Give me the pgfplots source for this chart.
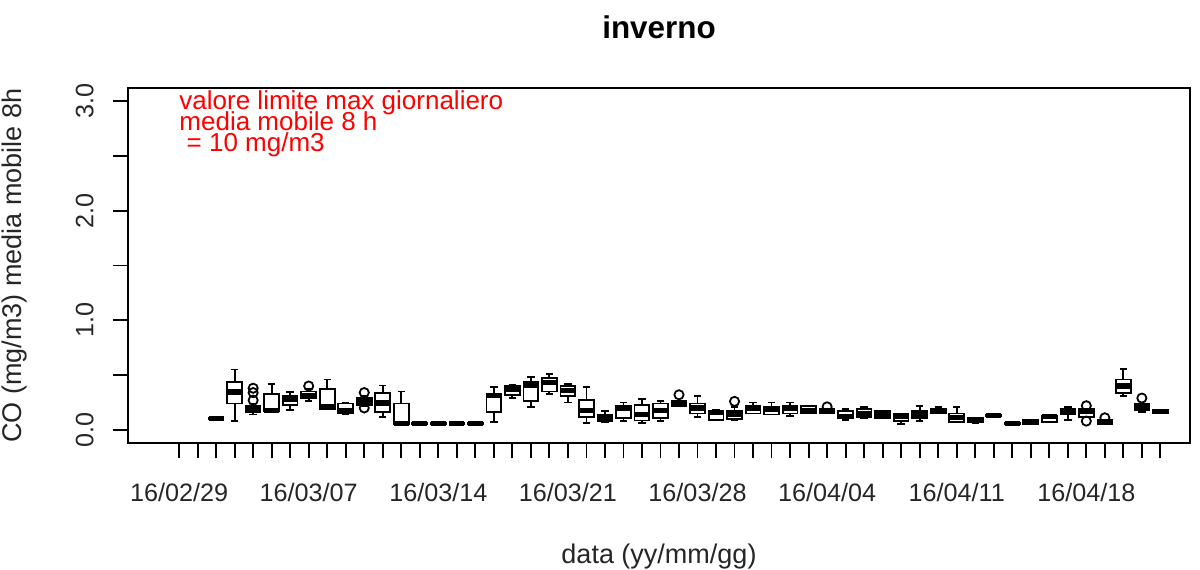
\documentclass[border=0pt]{standalone}
\usepackage{pgfplots}
\pgfplotsset{compat=1.18}
\usepackage{pgfplotstable}
\usepgfplotslibrary{statistics}
\usepackage{fontspec}
\setmainfont{Liberation Sans}

\pgfplotstableread{
k lw q1 med q3 uw
2 0.100 0.100 0.105 0.110 0.110
3 0.080 0.240 0.345 0.440 0.550
4 0.140 0.160 0.190 0.220 0.240
5 0.165 0.170 0.180 0.330 0.420
6 0.180 0.230 0.280 0.310 0.345
7 0.260 0.290 0.310 0.350 0.370
8 0.190 0.190 0.210 0.370 0.460
9 0.140 0.150 0.180 0.240 0.250
10 0.220 0.230 0.260 0.290 0.310
11 0.120 0.160 0.245 0.340 0.405
12 0.050 0.050 0.060 0.240 0.350
13 0.055 0.055 0.060 0.065 0.065
14 0.055 0.055 0.060 0.065 0.065
15 0.055 0.055 0.060 0.065 0.065
16 0.055 0.055 0.060 0.065 0.065
17 0.070 0.160 0.310 0.330 0.390
18 0.290 0.320 0.370 0.400 0.410
19 0.210 0.260 0.410 0.440 0.480
20 0.330 0.350 0.430 0.470 0.510
21 0.250 0.310 0.360 0.400 0.420
22 0.060 0.120 0.180 0.270 0.390
23 0.070 0.080 0.110 0.140 0.170
24 0.080 0.110 0.200 0.220 0.250
25 0.060 0.085 0.140 0.230 0.280
26 0.080 0.110 0.180 0.240 0.265
27 0.220 0.220 0.240 0.260 0.260
28 0.120 0.150 0.200 0.240 0.310
29 0.090 0.090 0.160 0.170 0.180
30 0.090 0.100 0.140 0.170 0.210
31 0.150 0.150 0.200 0.220 0.250
32 0.140 0.140 0.190 0.210 0.250
33 0.130 0.150 0.200 0.220 0.250
34 0.150 0.150 0.180 0.220 0.220
35 0.150 0.150 0.170 0.190 0.190
36 0.090 0.110 0.120 0.170 0.190
37 0.110 0.120 0.150 0.190 0.210
38 0.110 0.110 0.140 0.170 0.170
39 0.050 0.080 0.120 0.150 0.150
40 0.080 0.110 0.140 0.170 0.220
41 0.150 0.150 0.180 0.190 0.210
42 0.070 0.070 0.110 0.150 0.210
43 0.060 0.070 0.090 0.110 0.110
44 0.125 0.125 0.130 0.135 0.135
45 0.055 0.055 0.060 0.065 0.065
46 0.050 0.050 0.070 0.090 0.090
47 0.070 0.070 0.120 0.130 0.140
48 0.090 0.140 0.170 0.190 0.210
49 0.120 0.120 0.170 0.190 0.190
50 0.050 0.050 0.070 0.090 0.090
51 0.310 0.335 0.400 0.460 0.555
52 0.165 0.180 0.210 0.235 0.235
53 0.150 0.150 0.165 0.180 0.180
}\boxdata

\pgfplotstableread{
k y
4 0.27
4 0.34
4 0.38
7 0.40
10 0.34
10 0.20
27 0.32
30 0.26
35 0.21
49 0.22
49 0.08
50 0.11
52 0.29
}\outdata

\begin{document}
\begin{tikzpicture}
\begin{axis}[
  scale only axis,
  width=531pt, height=177.5pt,
  xmin=-2.76, xmax=54.6,
  ymin=-0.12, ymax=3.12,
  axis line style={line width=0.9pt},
  every tick/.style={black, line width=0.9pt},
  tick align=outside,
  major tick length=7.5pt,
  xtick pos=bottom, ytick pos=left,
  xtick={0,...,53},
  xticklabels={16/02/29,,,,,,,16/03/07,,,,,,,16/03/14,,,,,,,16/03/21,,,,,,,16/03/28,,,,,,,16/04/04,,,,,,,16/04/11,,,,,,,16/04/18,,,,},
  ytick={0,0.5,...,3},
  yticklabels={0.0,,1.0,,2.0,,3.0},
  tick label style={font=\fontsize{12.6}{15}\selectfont, text=black!85},
  xticklabel style={anchor=center, inner sep=0pt},
  xticklabel shift=17pt,
  yticklabel style={rotate=90, anchor=center, inner sep=0pt},
  yticklabel shift=14.2pt,
  xlabel={data (yy/mm/gg)},
  xlabel style={at={(axis description cs:0.5,-0.3385)}, anchor=base, inner sep=0pt, font=\fontsize{13.5}{16}\selectfont, text=black!85},
  ylabel={CO (mg/m3) media mobile 8h},
  ylabel style={at={(axis description cs:-0.1005,0.5)}, anchor=base, rotate=0, inner sep=0pt, font=\fontsize{13.5}{16}\selectfont, text=black!85},
  title={inverno},
  title style={at={(axis description cs:0.5,1.107)}, anchor=base, inner sep=0pt, font=\fontsize{15.7}{18}\selectfont\bfseries},
  clip=false,
  boxplot/draw direction=y,
]
\pgfplotsinvokeforeach{0,...,51}{
  \pgfplotstablegetelem{#1}{k}\of\boxdata \let\bk\pgfplotsretval
  \pgfplotstablegetelem{#1}{lw}\of\boxdata \let\blw\pgfplotsretval
  \pgfplotstablegetelem{#1}{q1}\of\boxdata \let\bqa\pgfplotsretval
  \pgfplotstablegetelem{#1}{med}\of\boxdata \let\bmed\pgfplotsretval
  \pgfplotstablegetelem{#1}{q3}\of\boxdata \let\bqc\pgfplotsretval
  \pgfplotstablegetelem{#1}{uw}\of\boxdata \let\buw\pgfplotsretval
  \edef\doplot{\noexpand\addplot[black, solid, line width=0.9pt, mark=none,
    boxplot prepared={draw position=\bk, lower whisker=\blw, lower quartile=\bqa,
      median=\bmed, upper quartile=\bqc, upper whisker=\buw,
      box extend=0.8, whisker extend=0.4,
      every median/.style={line width=2.6pt}}] coordinates {};}
  \doplot
}
\addplot[only marks, mark=o, mark size=2.3pt, black, line width=0.9pt] table[x=k, y=y] {\outdata};
\node[anchor=base west, inner sep=0pt, text=red, font=\fontsize{13}{15}\selectfont] at (axis cs:0,2.927) {valore limite max giornaliero};
\node[anchor=base west, inner sep=0pt, text=red, font=\fontsize{13}{15}\selectfont] at (axis cs:0,2.735) {media mobile 8 h};
\node[anchor=base west, inner sep=0pt, text=red, font=\fontsize{13}{15}\selectfont] at (axis cs:0,2.544) {\ = 10 mg/m3};
\end{axis}
\path ([shift={(-64pt,-63pt)}]current axis.south west) rectangle ([shift={(5pt,44pt)}]current axis.north east);
\end{tikzpicture}
\end{document}
